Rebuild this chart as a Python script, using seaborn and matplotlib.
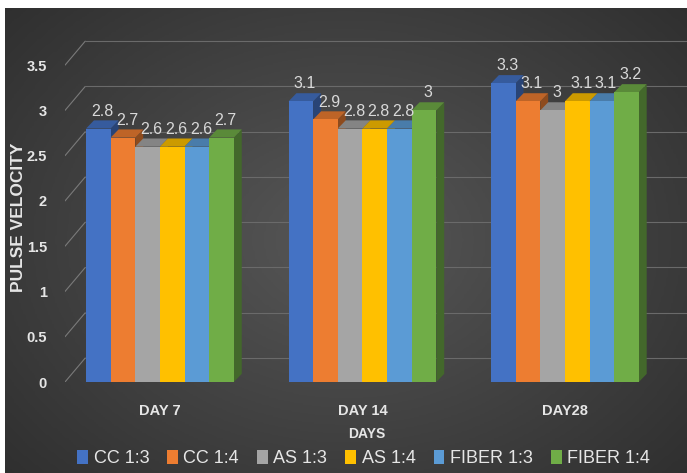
import numpy as np
import pandas as pd
import matplotlib.pyplot as plt
import matplotlib.colors as mcolors
from matplotlib.patches import Polygon
import seaborn as sns

# chart data
days = ['DAY 7', 'DAY 14', 'DAY28']
mixes = ['CC 1:3', 'CC 1:4', 'AS 1:3', 'AS 1:4', 'FIBER 1:3', 'FIBER 1:4']
cc13 = [2.8, 3.1, 3.3]
cc14 = [2.7, 2.9, 3.1]
as13 = [2.6, 2.8, 3.0]
as14 = [2.6, 2.8, 3.1]
fiber13 = [2.6, 2.8, 3.1]
fiber14 = [2.7, 3.0, 3.2]
colors = ['#4472C4', '#ED7D31', '#A5A5A5', '#FFC000', '#5B9BD5', '#70AD47']

series = [cc13, cc14, as13, as14, fiber13, fiber14]
rows = []
for mix, vals in zip(mixes, series):
    for d, v in zip(days, vals):
        rows.append({'day': d, 'mix': mix, 'velocity': v})
df = pd.DataFrame(rows)

sns.set_style('dark')
plt.rcParams['font.family'] = ['Liberation Sans', 'DejaVu Sans']
txt = '#e6e6e6'

fig = plt.figure(figsize=(6.87, 4.73), dpi=100, facecolor='white')

# dark gradient panel behind the chart
bg = fig.add_axes([5 / 687, 0, 1 - 5 / 687, 1 - 8 / 473])
yy, xx = np.mgrid[-1:1:200j, -1:1:300j]
r = np.sqrt(xx ** 2 + (yy * 0.9) ** 2)
bg.imshow(r, cmap=mcolors.LinearSegmentedColormap.from_list('g', ['#575757', '#2e2e2e']),
          aspect='auto', extent=[0, 1, 0, 1], vmin=0, vmax=1.4)
bg.axis('off')

ax = fig.add_axes([65 / 687, 1 - 382 / 473, 622 / 687, 344 / 473])
ax.set_facecolor('none')
sns.barplot(data=df, x='day', y='velocity', hue='mix', palette=colors,
            width=0.73, gap=0, saturation=1, ax=ax, legend=True)

ax.set_ylim(0, 3.8)
ax.set_xlim(-0.469, 2.603)

# bar depth (top and side faces)
dy = 0.09
for p in ax.patches:
    x, w, h = p.get_x(), p.get_width(), p.get_height()
    if w == 0 or h == 0:
        continue
    dx = w * 0.32
    base = np.array(mcolors.to_rgb(p.get_facecolor()))
    z = 5 + (x + 1) * 10
    p.set_zorder(z + 0.2)
    p.set_edgecolor('none')
    side = Polygon([(x + w, 0), (x + w + dx, dy), (x + w + dx, h + dy), (x + w, h)],
                   closed=True, facecolor=base * 0.6, edgecolor='none', zorder=z)
    top = Polygon([(x, h), (x + w, h), (x + w + dx, h + dy), (x + dx, h + dy)],
                  closed=True, facecolor=base * 0.8, edgecolor='none', zorder=z + 0.1)
    ax.add_patch(side)
    ax.add_patch(top)
    ax.text(x + w / 2 + dx / 2, h + dy + 0.02, f'{h:g}', ha='center', va='bottom',
            color='#d9d9d9', fontsize=11.5, zorder=100)

ticks = np.arange(0, 3.51, 0.5)
ax.set_yticks(ticks)
ax.set_yticklabels([f'{t:g}' for t in ticks])
ax.tick_params(axis='both', colors=txt, labelsize=10.5, length=0)
for lab in ax.get_xticklabels() + ax.get_yticklabels():
    lab.set_fontweight('bold')
ax.tick_params(axis='x', pad=16)
ax.tick_params(axis='y', pad=13)
ax.grid(False)
for s in ax.spines.values():
    s.set_visible(False)

# back-wall gridlines with perspective stubs
x0, x1 = ax.get_xlim()
off_x, off_y = 0.1, 0.265
for t in ticks:
    ax.plot([x0, x0 + off_x], [t, t + off_y], color='#7a7a7a', linewidth=0.8, zorder=1)
    ax.plot([x0 + off_x, x1], [t + off_y, t + off_y], color='#6a6a6a', linewidth=0.8, zorder=1)

ax.set_xlabel('DAYS', color=txt, fontsize=10, fontweight='bold')
ax.xaxis.set_label_coords(0.485, -0.13)
ax.set_ylabel('PULSE VELOCITY', color=txt, fontsize=12.5, fontweight='bold')
ax.yaxis.set_label_coords(-0.062, 0.48)

handles, labels = ax.get_legend_handles_labels()
for hd in handles:
    hd.set_edgecolor('none')
ax.legend(handles, labels, loc='center', bbox_to_anchor=(0.48, -0.222), ncol=6,
          frameon=False, fontsize=13, labelcolor=txt, handlelength=0.6, handleheight=0.9,
          handletextpad=0.3, columnspacing=1.0)

fig.savefig('out.png', dpi=100, facecolor='white')
